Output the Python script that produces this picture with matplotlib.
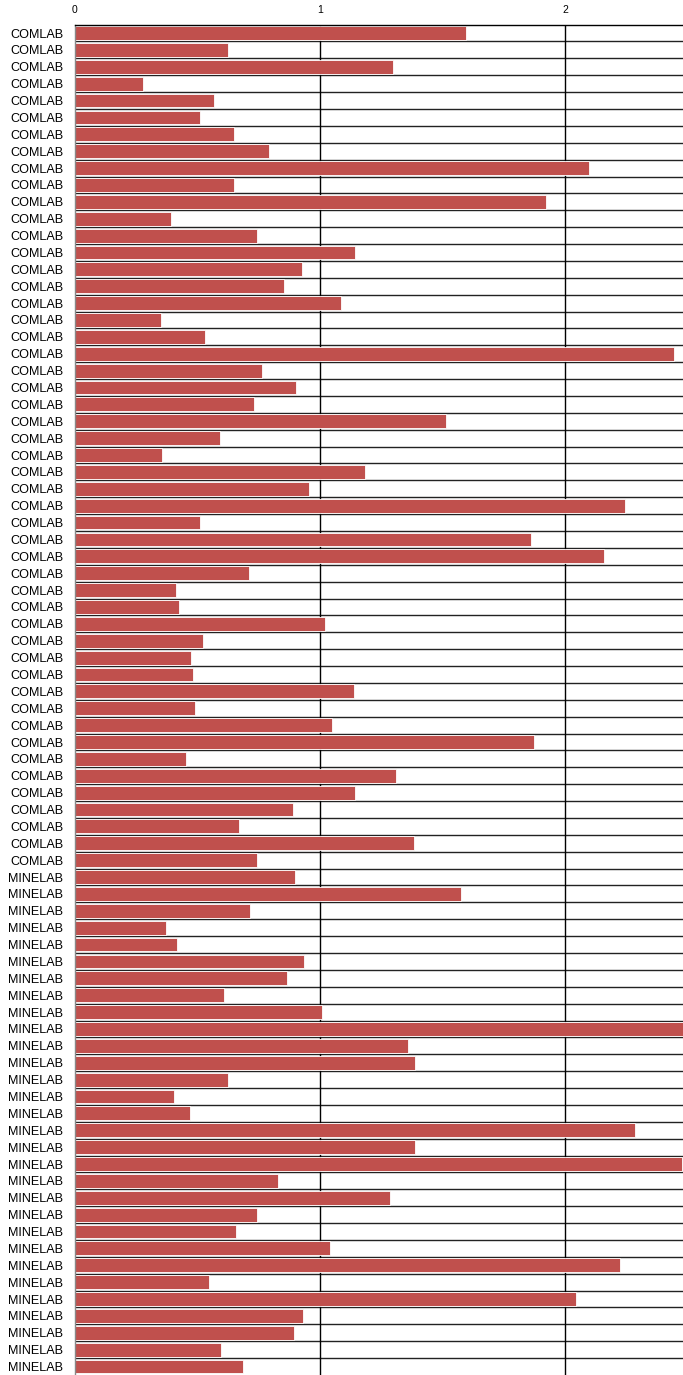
import matplotlib
matplotlib.use("Agg")
import matplotlib.pyplot as plt
import numpy as np

comlab_values = [
    1.596, 0.624, 1.298, 0.278, 0.567, 0.510, 0.649, 0.792, 2.098, 0.649,
    1.922, 0.392, 0.743, 1.143, 0.927, 0.853, 1.086, 0.351, 0.531, 2.445,
    0.763, 0.902, 0.731, 1.514, 0.592, 0.355, 1.184, 0.955, 2.245, 0.510,
    1.861, 2.159, 0.710, 0.412, 0.424, 1.020, 0.522, 0.473, 0.482, 1.139,
    0.490, 1.049, 1.873, 0.453, 1.310, 1.143, 0.890, 0.669, 1.384, 0.743,
]
minelab_values = [
    0.898, 1.576, 0.714, 0.371, 0.416, 0.935, 0.865, 0.608, 1.008, 2.550,
    1.359, 1.388, 0.624, 0.404, 0.469, 2.286, 1.388, 2.478, 0.829, 1.286,
    0.743, 0.657, 1.041, 2.224, 0.547, 2.045, 0.931, 0.894, 0.596, 0.686,
]
labels = ["COMLAB"] * len(comlab_values) + ["MINELAB"] * len(minelab_values)
values = comlab_values + minelab_values
x_ticks = [0, 1, 2]

fig = plt.figure(figsize=(6.83, 13.75), dpi=100)
ax = fig.add_axes([75 / 683, 0.0 / 1375, 1 - 75 / 683, 1 - 24.6 / 1375])

n = len(values)
pos = np.arange(n)
ax.barh(pos, values, height=0.82, color="#C0504D", edgecolor="white",
        linewidth=0.6, zorder=2)

ax.set_ylim(n - 0.5, -0.5)
ax.set_xlim(0, 2.482)

# row separators
for b in np.arange(0.5, n - 0.5, 1.0):
    ax.axhline(b, color="#222222", linewidth=1.0, zorder=1)
for t in x_ticks[1:]:
    ax.axvline(t, color="black", linewidth=1.0, zorder=1)

ax.set_yticks(pos)
ax.set_yticklabels(labels, fontsize=9.1, family="Liberation Sans")
ax.xaxis.tick_top()
ax.set_xticks(x_ticks)
ax.set_xticklabels([str(t) for t in x_ticks], fontsize=7.5, family="Liberation Sans")
ax.tick_params(axis="y", length=0, pad=8.6)
ax.tick_params(axis="x", length=0, pad=6.9)

for side in ["right", "bottom"]:
    ax.spines[side].set_visible(False)
ax.spines["top"].set_color("black")
ax.spines["top"].set_linewidth(1.0)
ax.spines["left"].set_color("#888888")
ax.spines["left"].set_linewidth(1.0)

fig.savefig("out.png", dpi=100)
